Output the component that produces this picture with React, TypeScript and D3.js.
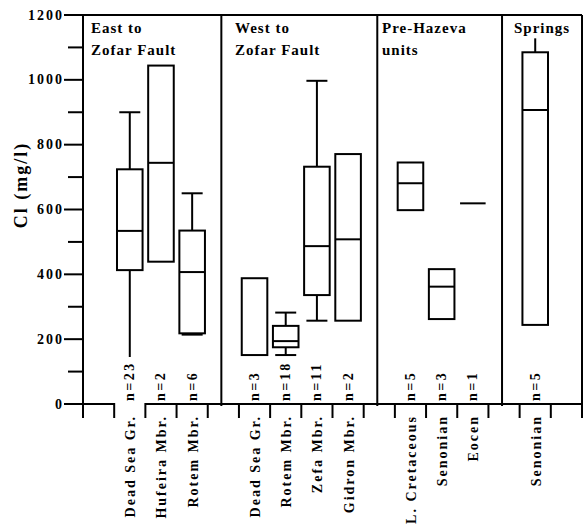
import React from "react";
import * as d3 from "d3";

// ---- data ----
const slotLabels = [
  "", "Dead Sea Gr.", "Hufeira Mbr.", "Rotem Mbr.", "",
  "Dead Sea Gr.", "Rotem Mbr.", "Zefa Mbr.", "Gidron Mbr.", "",
  "L. Cretaceous", "Senonian", "Eocen", "", "Senonian", "",
];
const boxSlots = [1, 2, 3, 5, 6, 7, 8, 10, 11, 12, 14];
const nCounts = [23, 2, 6, 3, 18, 11, 2, 5, 3, 1, 5];
const q1 = [413, 439, 218, 151, 175, 336, 257, 598, 262, 619, 244];
const median: (number | null)[] = [534, 744, 407, null, 194, 487, 508, 681, 362, 619, 907];
const q3 = [724, 1044, 535, 388, 241, 732, 771, 745, 416, 619, 1085];
const whiskerLow: (number | null)[] = [145, null, 214, null, 151, 257, null, null, null, null, null];
const whiskerHigh: (number | null)[] = [900, null, 650, null, 282, 997, null, null, null, null, 1128];
const capLow = [false, false, true, false, true, true, false, false, false, false, false];
const capHigh = [true, false, true, false, true, true, false, false, false, false, false];
const dividerSlots = [4, 9, 13];
const groupTitles = [
  ["East to", "Zofar Fault"],
  ["West to", "Zofar Fault"],
  ["Pre-Hazeva", "units"],
  ["Springs"],
];
const majorTicks = [0, 200, 400, 600, 800, 1000, 1200];
const minorTicks = [100, 300, 500, 700, 900, 1100];
const axisGapSlot = 1;

// ---- layout ----
const W = 584, H = 526;
const left = 83, right = 582, top = 15, bottom = 404;
const titleX = [91, 235, 382, 514];
const FONT = "'Liberation Serif', 'Times New Roman', serif";

export default function App() {
  const y = d3.scaleLinear().domain([0, 1200]).range([bottom, top]);
  const x = d3.scaleBand<number>().domain(d3.range(slotLabels.length)).range([left, right]);
  const bw = x.bandwidth();
  const boxW = bw * 0.82;
  const capW = 21;
  const cx = (s: number) => (x(s) as number) + bw / 2;
  const sw = 2;

  const divX = dividerSlots.map((s) => cx(s) - 2);

  return (
    <svg width={W} height={H} style={{ position: "absolute", left: 0, top: 0, background: "#fff" }}
      fontFamily={FONT} fontWeight="bold">
      <rect x={0} y={0} width={W} height={H} fill="#fff" />
      {/* frame */}
      <line x1={64} x2={right} y1={top} y2={top} stroke="#000" strokeWidth={sw} />
      <line x1={left} x2={left} y1={top} y2={bottom + 14} stroke="#000" strokeWidth={sw} />
      <line x1={right} x2={right} y1={top} y2={bottom + 14} stroke="#000" strokeWidth={sw} />
      {/* x axis line with gap */}
      <line x1={64} x2={x(axisGapSlot) as number} y1={bottom} y2={bottom} stroke="#000" strokeWidth={sw} />
      <line x1={(x(axisGapSlot) as number) + bw} x2={right} y1={bottom} y2={bottom} stroke="#000" strokeWidth={sw} />
      {/* x ticks */}
      {d3.range(slotLabels.length + 1).map((i) => {
        const xx = left + i * bw;
        return <line key={"xt" + i} x1={xx} x2={xx} y1={bottom - 1} y2={bottom + 14} stroke="#000" strokeWidth={sw} />;
      })}
      {/* y ticks */}
      {majorTicks.map((t) => (
        <g key={"my" + t}>
          <line x1={64} x2={left} y1={y(t)} y2={y(t)} stroke="#000" strokeWidth={sw} />
          <text x={64} y={y(t)} textAnchor="end" dominantBaseline="central" fontSize={14} letterSpacing={2}>{t}</text>
        </g>
      ))}
      {minorTicks.map((t) => (
        <line key={"mn" + t} x1={68} x2={left} y1={y(t)} y2={y(t)} stroke="#000" strokeWidth={sw} />
      ))}
      {/* y title */}
      <text transform={`translate(21,185) rotate(-90)`} textAnchor="middle" dominantBaseline="central" fontSize={18} letterSpacing={2}>Cl (mg/l)</text>
      {/* dividers */}
      {divX.map((dx, i) => (
        <line key={"dv" + i} x1={dx} x2={dx} y1={top} y2={bottom + 2} stroke="#000" strokeWidth={sw} />
      ))}
      {/* group titles */}
      {groupTitles.map((lines, gi) => (
        <text key={"gt" + gi} x={titleX[gi]} y={33} fontSize={15} letterSpacing={1}>
          {lines.map((ln, li) => (
            <tspan key={li} x={titleX[gi]} dy={li === 0 ? 0 : 22}>{ln}</tspan>
          ))}
        </text>
      ))}
      {/* boxes */}
      {boxSlots.map((s, i) => {
        const c = cx(s);
        const flat = q1[i] === q3[i];
        return (
          <g key={"bx" + i} stroke="#000" strokeWidth={sw} fill="none">
            {whiskerHigh[i] != null && (
              <>
                <line x1={c} x2={c} y1={y(q3[i])} y2={y(whiskerHigh[i] as number)} />
                {capHigh[i] && <line x1={c - capW / 2} x2={c + capW / 2} y1={y(whiskerHigh[i] as number)} y2={y(whiskerHigh[i] as number)} />}
              </>
            )}
            {whiskerLow[i] != null && (
              <>
                <line x1={c} x2={c} y1={y(q1[i])} y2={y(whiskerLow[i] as number)} />
                {capLow[i] && <line x1={c - capW / 2} x2={c + capW / 2} y1={y(whiskerLow[i] as number)} y2={y(whiskerLow[i] as number)} />}
              </>
            )}
            {flat ? (
              <line x1={c - boxW / 2} x2={c + boxW / 2} y1={y(q1[i])} y2={y(q1[i])} />
            ) : (
              <rect x={c - boxW / 2} width={boxW} y={y(q3[i])} height={y(q1[i]) - y(q3[i])} fill="#fff" />
            )}
            {median[i] != null && !flat && (
              <line x1={c - boxW / 2} x2={c + boxW / 2} y1={y(median[i] as number)} y2={y(median[i] as number)} />
            )}
          </g>
        );
      })}
      {/* n labels */}
      {boxSlots.map((s, i) => (
        <text key={"n" + i} transform={`translate(${cx(s)},${bottom - 3}) rotate(-90)`} textAnchor="start"
          dominantBaseline="central" fontSize={14} letterSpacing={2.5}>{`n=${nCounts[i]}`}</text>
      ))}
      {/* category labels */}
      {slotLabels.map((lab, s) => lab ? (
        <text key={"c" + s} transform={`translate(${cx(s) + 1},${bottom + 11}) rotate(-90)`} textAnchor="end"
          dominantBaseline="central" fontSize={14} letterSpacing={2}>{lab}</text>
      ) : null)}
    </svg>
  );
}
